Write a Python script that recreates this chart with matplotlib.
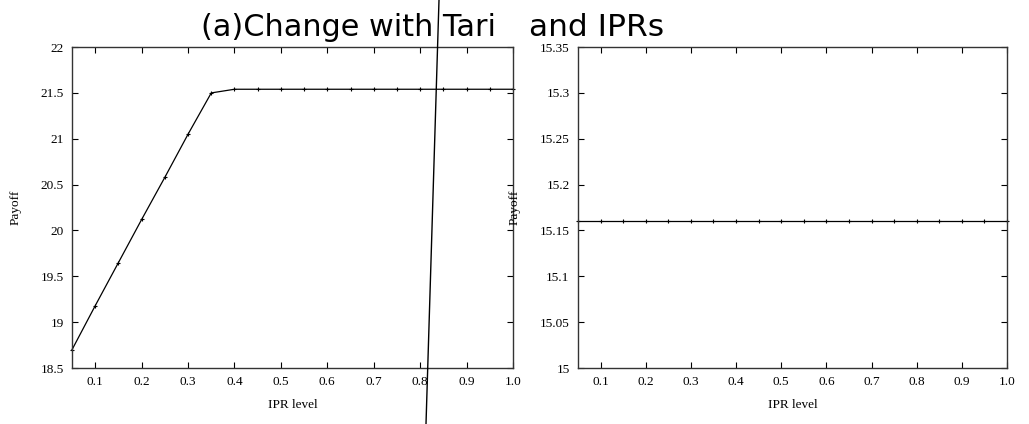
import numpy as np
import matplotlib.pyplot as plt
from matplotlib.lines import Line2D

# IPR level on the x axis, payoff on the y axis
ipr_level = [0.05, 0.10, 0.15, 0.20, 0.25, 0.30, 0.35, 0.40, 0.45, 0.50,
             0.55, 0.60, 0.65, 0.70, 0.75, 0.80, 0.85, 0.90, 0.95, 1.00]
payoff_left = [18.70, 19.18, 19.65, 20.12, 20.58, 21.05, 21.50, 21.54, 21.54, 21.54,
               21.54, 21.54, 21.54, 21.54, 21.54, 21.54, 21.54, 21.54, 21.54, 21.54]
payoff_right = [15.16] * 20

x_ticks = [0.1, 0.2, 0.3, 0.4, 0.5, 0.6, 0.7, 0.8, 0.9, 1.0]
x_ticklabels = ["0.1", "0.2", "0.3", "0.4", "0.5", "0.6", "0.7", "0.8", "0.9", "1.0"]
yl_ticks = [18.5, 19, 19.5, 20, 20.5, 21, 21.5, 22]
yl_ticklabels = ["18.5", "19", "19.5", "20", "20.5", "21", "21.5", "22"]
yr_ticks = [15, 15.05, 15.1, 15.15, 15.2, 15.25, 15.3, 15.35]
yr_ticklabels = ["15", "15.05", "15.1", "15.15", "15.2", "15.25", "15.3", "15.35"]

serif = "Liberation Serif"

fig = plt.figure(figsize=(10.29, 4.24), dpi=100)
ax1 = fig.add_axes([0.070, 0.132, 0.4285, 0.757])
ax2 = fig.add_axes([0.5617, 0.132, 0.4169, 0.757])


def style(ax, yticks, ylabels, ylim, ylabel_x):
    ax.set_xlim(0.05, 1.0)
    ax.set_ylim(*ylim)
    ax.set_xticks(x_ticks)
    ax.set_xticklabels(x_ticklabels, fontfamily=serif, fontsize=9.5)
    ax.set_yticks(yticks)
    ax.set_yticklabels(ylabels, fontfamily=serif, fontsize=9.5)
    ax.tick_params(direction="in", length=4, width=0.8, top=True, right=True,
                   pad=6, colors="black")
    for s in ax.spines.values():
        s.set_linewidth(1.0)
        s.set_color("#333333")
    ax.set_xlabel("IPR level", fontfamily=serif, fontsize=9.5)
    ax.xaxis.set_label_coords(0.5, -0.095)
    ax.set_ylabel("Payoff", fontfamily=serif, fontsize=9.5)
    ax.yaxis.set_label_coords(ylabel_x, 0.5)


ax1.plot(ipr_level, payoff_left, color="black", lw=0.9, marker="+",
         markersize=3, markeredgewidth=0.8, clip_on=False)
style(ax1, yl_ticks, yl_ticklabels, (18.5, 22), -0.115)

ax2.plot(ipr_level, payoff_right, color="black", lw=0.9, marker="+",
         markersize=3, markeredgewidth=0.8, clip_on=False)
style(ax2, yr_ticks, yr_ticklabels, (15, 15.35), -0.133)

# title, split around a gap as in the source figure
fig.text(201 / 1029, 0.935, "(a)Change with Tari", fontsize=21.8, va="center",
         ha="left", family="DejaVu Sans")
fig.text(529 / 1029, 0.935, "and IPRs", fontsize=22.5, va="center",
         ha="left", family="DejaVu Sans")

# stray slanted line crossing the figure
fig.add_artist(Line2D([439 / 1029, 426 / 1029], [1.0, 0.0],
                      transform=fig.transFigure, color="black", lw=1.0))

fig.savefig("out.png", dpi=100)
